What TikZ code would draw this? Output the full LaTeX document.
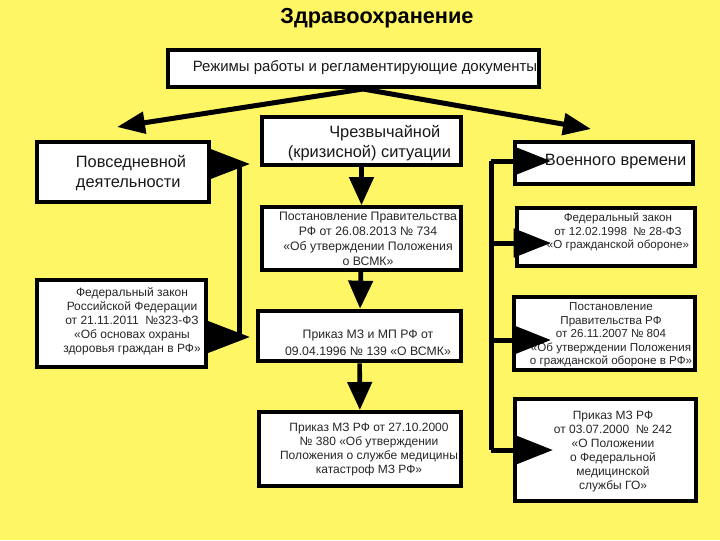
\documentclass[tikz,border=0pt]{standalone}
\usepackage{fontspec}
\setmainfont{Liberation Sans}
\usetikzlibrary{arrows.meta}
\definecolor{bgyellow}{RGB}{255,246,102}
\tikzset{every picture/.style={line width=0.75pt},
	docbox/.style={draw, line width=3pt, fill=white, inner sep=0pt},
	bigarrow/.style={line width=3.75pt, -{Triangle[length=21pt,width=16pt]}},
	downarrow/.style={line width=3.5pt, -{Triangle[length=21pt,width=18pt]}},
	sidetip/.style={line width=3.75pt, -{Triangle[length=28pt,width=21pt]}},
	lefttip/.style={line width=3.75pt, -{Triangle[length=31.5pt,width=23pt]}},
	bar/.style={line width=3.75pt},
	smalltext/.style={align=center, text=black!85, font=\fontsize{9}{10.5}\selectfont},
	bigtext/.style={align=left, text=black!90, font=\fontsize{12.3}{15}\selectfont},
}

\begin{document}
\begin{tikzpicture}[x=0.75pt,y=0.75pt,yscale=-1,xscale=1]
	\fill[bgyellow] (0,0) rectangle (720,540);
	\useasboundingbox (0,0) rectangle (720,540);

	% Title
	\node[font=\bfseries\fontsize{16.3}{19}\selectfont] (title) at (377,18) {Здравоохранение};

	%Boxes
	\node[docbox, minimum width=278pt, minimum height=28pt] (modes) at (353.5,68.5) {};
	\node[docbox, minimum width=129pt, minimum height=45pt] (daily) at (123,172) {};
	\node[docbox, minimum width=149pt, minimum height=36pt] (emerg) at (361.5,141) {};
	\node[docbox, minimum width=133.5pt, minimum height=31.5pt] (war) at (604,163) {};
	\node[docbox, minimum width=149pt, minimum height=47pt] (decree) at (361.5,238.5) {};
	\node[docbox, minimum width=152pt, minimum height=38pt] (order) at (359.5,336) {};
	\node[docbox, minimum width=151.5pt, minimum height=55.5pt] (service) at (360,449) {};
	\node[docbox, minimum width=126.75pt, minimum height=65.25pt] (fedlaw) at (121.5,323.5) {};
	\node[docbox, minimum width=133.5pt, minimum height=43.5pt] (civdef) at (606,237) {};
	\node[docbox, minimum width=135.75pt, minimum height=54.75pt] (regul) at (604.5,333.5) {};
	\node[docbox, minimum width=135.75pt, minimum height=76.5pt] (medserv) at (605.5,450) {};

	% Text Node
	\node[text=black!90, font=\fontsize{11.2}{13}\selectfont] (modesT) at (365,68) {Режимы работы и регламентирующие документы};
	% Text Node
	\node[bigtext, anchor=west] (dailyT) at (71,173) {Повседневной\\деятельности};
	% Text Node
	\node[bigtext, anchor=west] (emergT) at (283,143) {\hspace*{31pt}Чрезвычайной\\(кризисной) ситуации};
	% Text Node
	\node[bigtext, anchor=west] (warT) at (540,162) {Военного времени};
	% Text Node
	\node[smalltext, font=\fontsize{9.2}{11.2}\selectfont] (decreeT) at (368,239) {Постановление Правительства\\РФ от 26.08.2013 № 734\\«Об утверждении Положения\\о ВСМК»};
	% Text Node
	\node[smalltext, font=\fontsize{9.2}{12.5}\selectfont] (orderT) at (368,343) {Приказ МЗ и МП РФ от\\09.04.1996 № 139 «О ВСМК»};
	% Text Node
	\node[smalltext] (serviceT) at (369,450) {Приказ МЗ РФ от 27.10.2000\\№ 380 «Об утверждении\\Положения о службе медицины\\катастроф МЗ РФ»};
	% Text Node
	\node[smalltext] (fedlawT) at (132,321) {Федеральный закон\\Российской Федерации\\от 21.11.2011 \ №323-ФЗ\\«Об основах охраны\\здоровья граждан в РФ»};
	% Text Node
	\node[smalltext, font=\fontsize{8.7}{10.2}\selectfont] (civdefT) at (618,232) {Федеральный закон\\от 12.02.1998 \ № 28-ФЗ\\«О гражданской обороне»};
	% Text Node
	\node[smalltext, font=\fontsize{8.7}{10.2}\selectfont] (regulT) at (611,335) {Постановление\\Правительства РФ\\от 26.11.2007 № 804\\«Об утверждении Положения\\о гражданской обороне в РФ»};
	% Text Node
	\node[smalltext] (medservT) at (613,452) {Приказ МЗ РФ\\от 03.07.2000 \ № 242\\«О Положении\\о Федеральной\\медицинской\\службы ГО»};

	%Straight Lines
	\coordinate (split) at (363,89);
	\coordinate (toLeft) at (117,127);
	\coordinate (toRight) at (591,129);
	\draw[bigarrow] (split) -- (toLeft);
	\draw[bigarrow] (split) -- (toRight);

	\draw[downarrow] (emerg) -- (decree);
	\draw[downarrow] (decree) -- (order);
	\draw[downarrow] (order) -- (service);

	%Left bracket
	\coordinate (lbTop) at (239,164);
	\coordinate (lbBot) at (239,337);
	\draw[bar] (lbTop) -- (lbBot);
	\draw[lefttip] (208,164) -- (250,164);
	\draw[lefttip] (207,337) -- (250,337);

	%Right bracket
	\coordinate (rbTop) at (491,161);
	\coordinate (rbBot) at (491,450);
	\draw[bar] (rbTop) -- (rbBot);
	\draw[sidetip] (rbTop) -- (551,161);
	\draw[sidetip] (491,243) -- (551,243);
	\draw[sidetip] (491,340) -- (551,340);
	\draw[sidetip] (rbBot) -- (553,450);

\end{tikzpicture}
\end{document}
